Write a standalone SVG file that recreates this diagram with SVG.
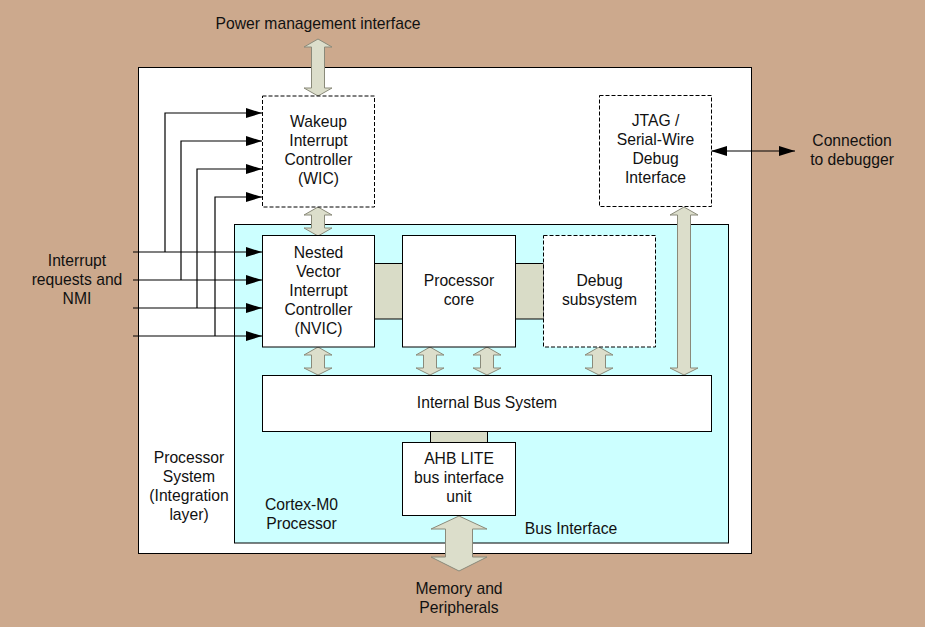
<svg xmlns="http://www.w3.org/2000/svg" width="925" height="627" viewBox="0 0 925 627">
<defs>
<style>
.t{font-family:"Liberation Sans",Arial,sans-serif;font-size:15.7px;fill:#111;text-anchor:middle}
.box{fill:#fff;stroke:#000;stroke-width:1}
.dash{fill:#fff;stroke:#000;stroke-width:1;stroke-dasharray:4,2}
.ln{fill:none;stroke:#000;stroke-width:1.2}
.big{fill:#DCDECB;stroke:#8A8A7A;stroke-width:1}
.link{fill:#D9DCC7;stroke:#000;stroke-width:1}
</style>
<marker id="ah" viewBox="0 0 16 10" refX="16" refY="5" markerWidth="16" markerHeight="10" markerUnits="userSpaceOnUse" orient="auto-start-reverse">
<path d="M0,0 L16,5 L0,10 Z" fill="#000"/>
</marker>
</defs>
<rect x="0" y="0" width="925" height="627" fill="#CCA98D"/>

<g id="processor-system">
<rect x="138.5" y="67.5" width="613" height="486" class="box"/>
<text class="t" x="189" y="463">Processor</text>
<text class="t" x="189" y="482">System</text>
<text class="t" x="189" y="501">(Integration</text>
<text class="t" x="189" y="520">layer)</text>
</g>

<g id="cortex-m0">
<rect x="234.5" y="224.5" width="494" height="318.5" fill="#CCFFFF" stroke="#000" stroke-width="1"/>
<text class="t" x="301.5" y="510">Cortex-M0</text>
<text class="t" x="301.5" y="529">Processor</text>
<text class="t" x="571" y="533.5">Bus Interface</text>
</g>

<g id="connectors">
<rect class="link" x="374.5" y="263.5" width="28" height="55.5"/>
<rect class="link" x="515.5" y="263.5" width="28" height="55.5"/>
<rect class="link" x="430.5" y="431.5" width="57" height="11"/>
<path class="ln" d="M133,252 H262" marker-end="url(#ah)"/>
<path class="ln" d="M133,280 H262" marker-end="url(#ah)"/>
<path class="ln" d="M133,308 H262" marker-end="url(#ah)"/>
<path class="ln" d="M133,336 H262" marker-end="url(#ah)"/>
<path class="ln" d="M165,252 V113 H262" marker-end="url(#ah)"/>
<path class="ln" d="M181,280 V141 H262" marker-end="url(#ah)"/>
<path class="ln" d="M197,308 V169 H262" marker-end="url(#ah)"/>
<path class="ln" d="M215,336 V197 H262" marker-end="url(#ah)"/>
<path class="ln" d="M711,151 H795" marker-start="url(#ah)" marker-end="url(#ah)"/>
<path class="big" d="M318,39 L332,47 L324.5,47 L324.5,88 L332,88 L318,96 L304,88 L311.5,88 L311.5,47 L304,47 Z"/>
<path class="big" d="M318,207 L332,215 L324.5,215 L324.5,228 L332,228 L318,236 L304,228 L311.5,228 L311.5,215 L304,215 Z"/>
<path class="big" d="M318,347 L332,355 L324.5,355 L324.5,368 L332,368 L318,375 L304,368 L311.5,368 L311.5,355 L304,355 Z"/>
<path class="big" d="M430,347 L444,355 L436.5,355 L436.5,368 L444,368 L430,375 L416,368 L423.5,368 L423.5,355 L416,355 Z"/>
<path class="big" d="M487,347 L501,355 L493.5,355 L493.5,368 L501,368 L487,375 L473,368 L480.5,368 L480.5,355 L473,355 Z"/>
<path class="big" d="M599,347 L613,355 L605.5,355 L605.5,368 L613,368 L599,375 L585,368 L592.5,368 L592.5,355 L585,355 Z"/>
<path class="big" d="M684,207 L698,215 L690.5,215 L690.5,368 L698,368 L684,375 L670,368 L677.5,368 L677.5,215 L670,215 Z"/>
<path class="big" d="M459,516 L487,529 L472.5,529 L472.5,557 L487,557 L459,571 L431,557 L445.5,557 L445.5,529 L431,529 Z"/>
</g>

<g id="wic">
<rect class="dash" x="262.5" y="96" width="112" height="111"/>
<text class="t" x="318.5" y="127">Wakeup</text>
<text class="t" x="318.5" y="146">Interrupt</text>
<text class="t" x="318.5" y="165">Controller</text>
<text class="t" x="318.5" y="184">(WIC)</text>
</g>

<g id="jtag">
<rect class="dash" x="599.5" y="95.5" width="112" height="111"/>
<text class="t" x="655.5" y="126">JTAG /</text>
<text class="t" x="655.5" y="145">Serial-Wire</text>
<text class="t" x="655.5" y="164">Debug</text>
<text class="t" x="655.5" y="183">Interface</text>
</g>

<g id="nvic">
<rect class="box" x="262.5" y="235.5" width="112" height="111.5"/>
<text class="t" x="318.5" y="257.5">Nested</text>
<text class="t" x="318.5" y="276.5">Vector</text>
<text class="t" x="318.5" y="295.5">Interrupt</text>
<text class="t" x="318.5" y="314.5">Controller</text>
<text class="t" x="318.5" y="333.5">(NVIC)</text>
</g>

<g id="processor-core">
<rect class="box" x="402.5" y="235.5" width="113" height="111.5"/>
<text class="t" x="459" y="286">Processor</text>
<text class="t" x="459" y="305">core</text>
</g>

<g id="debug-subsystem">
<rect class="dash" x="543.5" y="235.5" width="112" height="111.5"/>
<text class="t" x="599.5" y="286">Debug</text>
<text class="t" x="599.5" y="305">subsystem</text>
</g>

<g id="internal-bus">
<rect class="box" x="262.5" y="375.5" width="449" height="56"/>
<text class="t" x="487" y="408">Internal Bus System</text>
</g>

<g id="ahb-lite">
<rect class="box" x="402.5" y="442.5" width="113" height="73"/>
<text class="t" x="459" y="464">AHB LITE</text>
<text class="t" x="459" y="483">bus interface</text>
<text class="t" x="459" y="502">unit</text>
</g>

<g id="labels">
<text class="t" x="318" y="29">Power management interface</text>
<text class="t" x="77" y="266">Interrupt</text>
<text class="t" x="77" y="285">requests and</text>
<text class="t" x="77" y="304">NMI</text>
<text class="t" x="852" y="146">Connection</text>
<text class="t" x="852" y="165">to debugger</text>
<text class="t" x="459" y="594">Memory and</text>
<text class="t" x="459" y="613">Peripherals</text>
</g>
</svg>
